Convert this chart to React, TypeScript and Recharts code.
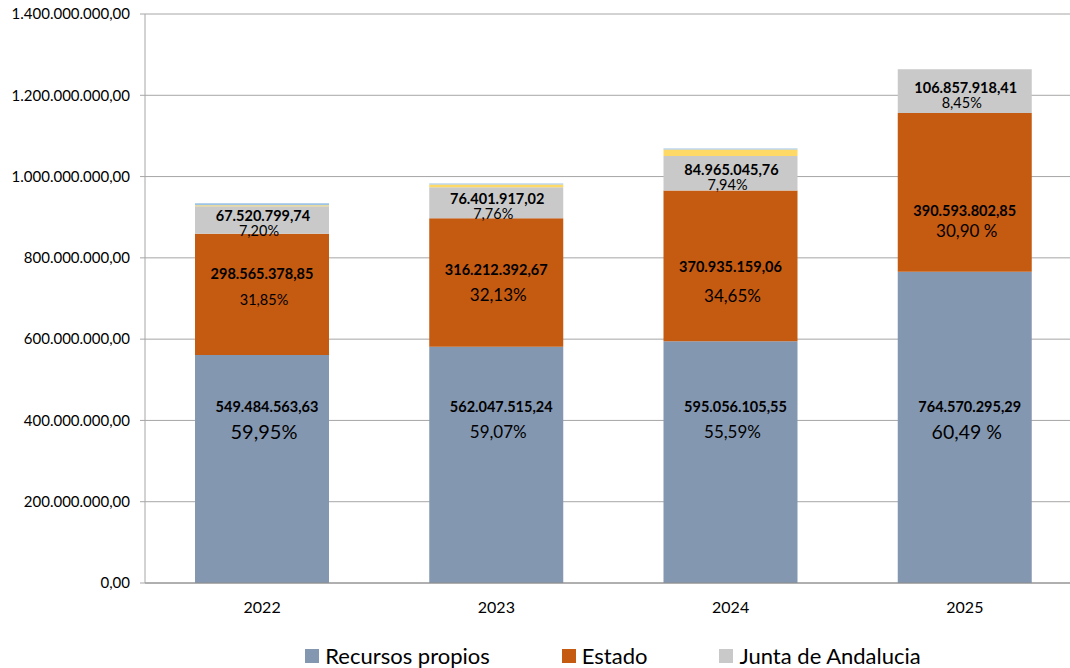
import React from 'react';
import { BarChart, Bar, XAxis, YAxis, CartesianGrid, LabelList } from 'recharts';

const categories = ['2022', '2023', '2024', '2025'];
const recursosPropios = [561e6, 581e6, 595e6, 766e6];
const estado = [298.6e6, 316.2e6, 370.9e6, 390.6e6];
const juntaAndalucia = [67.5e6, 76.4e6, 85.0e6, 107.5e6];
const otrosAmarillo = [2.5e6, 6.6e6, 15.5e6, 0];
const otrosAzul = [5e6, 3e6, 2.5e6, 0];

const rpValueLabels = ['549.484.563,63', '562.047.515,24', '595.056.105,55', '764.570.295,29'];
const rpPctLabels = ['59,95%', '59,07%', '55,59%', '60,49 %'];
const estadoValueLabels = ['298.565.378,85', '316.212.392,67', '370.935.159,06', '390.593.802,85'];
const estadoPctLabels = ['31,85%', '32,13%', '34,65%', '30,90 %'];
const juntaValueLabels = ['67.520.799,74', '76.401.917,02', '84.965.045,76', '106.857.918,41'];
const juntaPctLabels = ['7,20%', '7,76%', '7,94%', '8,45%'];

const yTicks = [0, 200e6, 400e6, 600e6, 800e6, 1000e6, 1200e6, 1400e6];
const legendNames = ['Recursos propios', 'Estado', 'Junta de Andalucia'];

const COLORS = {
  rp: '#8497B0',
  estado: '#C55A11',
  junta: '#C9C9C9',
  amarillo: '#FFD966',
  azul: '#9DC3E6',
};
const legendColors = [COLORS.rp, COLORS.estado, COLORS.junta];

const FONT = 'Lato, "Open Sans", sans-serif';
const TXT = '#000000';

// label placement nudges (relative to segment centre) and font sizes
const estadoValueShift = [-21, -13, 1, 18];
const estadoPctShift = [5, 11.5, 29.5, 38.5];
const estadoPctSize = [14.5, 17, 17, 17];
const rpPctSize = [20, 17, 17, 19.5];
const VALUE_SIZE = 14.5;

const data = categories.map((c, i) => ({
  year: c,
  rp: recursosPropios[i],
  estado: estado[i],
  junta: juntaAndalucia[i],
  amarillo: otrosAmarillo[i],
  azul: otrosAzul[i],
}));

function fmt(n: number): string {
  const int = Math.floor(n).toString();
  const withDots = int.replace(/\B(?=(\d{3})+(?!\d))/g, '.');
  return withDots + ',00';
}

const RpLabel = (props: any) => {
  const { x, y, width, height, index } = props;
  const cx = x + width / 2;
  const bottom = y + height;
  const by = bottom - 177;
  return (
    <g>
      <text x={cx + 5} y={by} textAnchor="middle" dominantBaseline="central" fontFamily={FONT} fontWeight={700} fontSize={VALUE_SIZE} fill={TXT}>
        {rpValueLabels[index]}
      </text>
      <text x={cx + 2} y={by + 25} textAnchor="middle" dominantBaseline="central" fontFamily={FONT} fontSize={rpPctSize[index]} fill={TXT}>
        {rpPctLabels[index]}
      </text>
    </g>
  );
};

const EstadoLabel = (props: any) => {
  const { x, y, width, height, index } = props;
  const cx = x + width / 2;
  const cy = y + height / 2;
  return (
    <g>
      <text x={cx} y={cy + estadoValueShift[index]} textAnchor="middle" dominantBaseline="central" fontFamily={FONT} fontWeight={700} fontSize={VALUE_SIZE} fill={TXT}>
        {estadoValueLabels[index]}
      </text>
      <text x={cx + 2} y={cy + estadoPctShift[index]} textAnchor="middle" dominantBaseline="central" fontFamily={FONT} fontSize={estadoPctSize[index]} fill={TXT}>
        {estadoPctLabels[index]}
      </text>
    </g>
  );
};

const JuntaLabel = (props: any) => {
  const { x, y, width, height, index } = props;
  const cx = x + width / 2;
  const cy = y + height / 2;
  return (
    <g>
      <text x={cx + 1} y={cy - 4} textAnchor="middle" dominantBaseline="central" fontFamily={FONT} fontWeight={700} fontSize={VALUE_SIZE} fill={TXT}>
        {juntaValueLabels[index]}
      </text>
      <text x={cx - 3} y={cy + 11} textAnchor="middle" dominantBaseline="central" fontFamily={FONT} fontSize={14.5} fill={TXT}>
        {juntaPctLabels[index]}
      </text>
    </g>
  );
};

export default function App() {
  return (
    <div style={{ position: 'absolute', left: 0, top: 0, width: 1070, height: 668, background: '#fff', fontFamily: FONT, overflow: 'hidden' }}>
      <BarChart
        width={1070}
        height={668}
        data={data}
        margin={{ top: 14, right: -12, left: 0, bottom: 55 }}
        barSize={134}
      >
        <CartesianGrid vertical={false} stroke="#A6A6A6" strokeWidth={1} />
        <XAxis
          dataKey="year"
          height={30}
          tickLine={false}
          axisLine={{ stroke: '#8C8C8C' }}
          tickMargin={13}
          tick={{ fontFamily: FONT, fontSize: 16, fill: TXT }}
        />
        <YAxis
          width={145}
          domain={[0, 1400e6]}
          ticks={yTicks}
          interval={0}
          tickFormatter={fmt}
          tickSize={5}
          tickMargin={10}
          axisLine={{ stroke: '#A6A6A6' }}
          tickLine={{ stroke: '#A6A6A6' }}
          tick={{ fontFamily: FONT, fontSize: 15, fill: TXT }}
        />
        <Bar dataKey="rp" stackId="a" fill={COLORS.rp} isAnimationActive={false}>
          <LabelList dataKey="rp" content={RpLabel} />
        </Bar>
        <Bar dataKey="estado" stackId="a" fill={COLORS.estado} isAnimationActive={false}>
          <LabelList dataKey="estado" content={EstadoLabel} />
        </Bar>
        <Bar dataKey="junta" stackId="a" fill={COLORS.junta} isAnimationActive={false}>
          <LabelList dataKey="junta" content={JuntaLabel} />
        </Bar>
        <Bar dataKey="amarillo" stackId="a" fill={COLORS.amarillo} isAnimationActive={false} />
        <Bar dataKey="azul" stackId="a" fill={COLORS.azul} isAnimationActive={false} />
      </BarChart>
      <div
        style={{
          position: 'absolute',
          left: 0,
          width: 1226,
          top: 643,
          display: 'flex',
          justifyContent: 'center',
          gap: 72,
          fontFamily: FONT,
          fontSize: 22,
          color: TXT,
          lineHeight: '26px',
        }}
      >
        {legendNames.map((name, i) => (
          <div key={name} style={{ display: 'flex', alignItems: 'center' }}>
            <span style={{ display: 'inline-block', width: 14, height: 14, background: legendColors[i], marginRight: 6 }} />
            <span>{name}</span>
          </div>
        ))}
      </div>
    </div>
  );
}
